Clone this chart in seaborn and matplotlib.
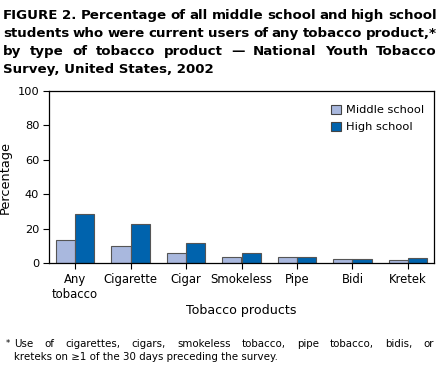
import pandas as pd
import matplotlib
matplotlib.use("Agg")
import matplotlib.pyplot as plt
import seaborn as sns
from matplotlib.patches import Patch

products = ["Any\ntobacco", "Cigarette", "Cigar", "Smokeless", "Pipe", "Bidi", "Kretek"]
middle_school = [13.3, 9.8, 6.0, 3.4, 3.5, 2.4, 1.9]
high_school = [28.2, 22.9, 11.6, 6.1, 3.3, 2.6, 2.7]
groups = ["Middle school", "High school"]
colors = ["#a9b8de", "#0063ad"]

title_lines = [
    "FIGURE 2. Percentage of all middle school and high school",
    "students who were current users of any tobacco product,*",
    "by type of tobacco product \u2014 National Youth Tobacco",
    "Survey, United States, 2002",
]
note_lines = [
    "Use of cigarettes, cigars, smokeless tobacco, pipe tobacco, bidis, or",
    "kreteks on \u22651 of the 30 days preceding the survey.",
]

df = pd.DataFrame({
    "product": products * 2,
    "pct": middle_school + high_school,
    "group": [groups[0]] * 7 + [groups[1]] * 7,
})

sns.set_style("white")
plt.rcParams["font.family"] = ["DejaVu Sans"]
plt.rcParams["text.color"] = "black"
plt.rcParams["axes.labelcolor"] = "black"

W, H = 441, 373
fig = plt.figure(figsize=(W / 100, H / 100), dpi=100)
ax = fig.add_axes([49 / W, 1 - 263 / H, (434 - 49) / W, (263 - 91) / H])

sns.barplot(data=df, x="product", y="pct", hue="group", palette=colors,
            saturation=1, edgecolor="#555555", linewidth=0.8, width=0.7,
            ax=ax, legend=False)

ax.set_ylim(0, 100)
ax.set_xlim(-0.47, 6.47)
ax.set_yticks([0, 20, 40, 60, 80, 100])
ax.tick_params(axis="both", which="both", direction="out", length=4, width=0.8,
               colors="black", labelcolor="black", left=True, bottom=True)
ax.tick_params(axis="x", labelsize=8.4, pad=3)
ax.tick_params(axis="y", labelsize=8.2, pad=3)
for s in ax.spines.values():
    s.set_visible(True)
    s.set_color("black")
    s.set_linewidth(0.9)
ax.set_ylabel("Percentage", fontsize=9.3, color="black")
ax.yaxis.set_label_coords(-37 / 385, 0.5)
ax.set_xlabel("Tobacco products", fontsize=9.1, color="black")
ax.xaxis.set_label_coords(0.5, -(304 - 263) / 172)

handles = [Patch(facecolor=c, edgecolor="#444444", linewidth=0.8) for c in colors]
leg = ax.legend(handles, groups, loc="upper right", frameon=False, fontsize=8.2,
                handlelength=0.9, handleheight=0.9, handletextpad=0.4,
                labelspacing=0.55, bbox_to_anchor=(1.0, 0.98))
for t in leg.get_texts():
    t.set_color("black")

renderer = fig.canvas.get_renderer()


def justified(lines, x0, x1, y0, step, size, weight):
    for i, line in enumerate(lines):
        y = 1 - (y0 + i * step) / H
        words = line.split(" ")
        if i == len(lines) - 1:
            fig.text(x0 / W, y, line, fontsize=size, fontweight=weight,
                     va="baseline", color="black")
            continue
        texts = [fig.text(0, y, w, fontsize=size, fontweight=weight,
                          va="baseline", color="black") for w in words]
        widths = [t.get_window_extent(renderer).width for t in texts]
        gap = (x1 - x0 - sum(widths)) / (len(words) - 1)
        x = x0
        for t, w in zip(texts, widths):
            t.set_x(x / W)
            x += w + gap


justified(title_lines, 3, 437, 19, 18, 9.6, "bold")
fig.text(6 / W, 1 - 346 / H, "*", fontsize=6, va="baseline", color="black")
justified(note_lines, 14, 434, 347, 13, 7.4, "normal")

fig.savefig("out.png", dpi=100)
